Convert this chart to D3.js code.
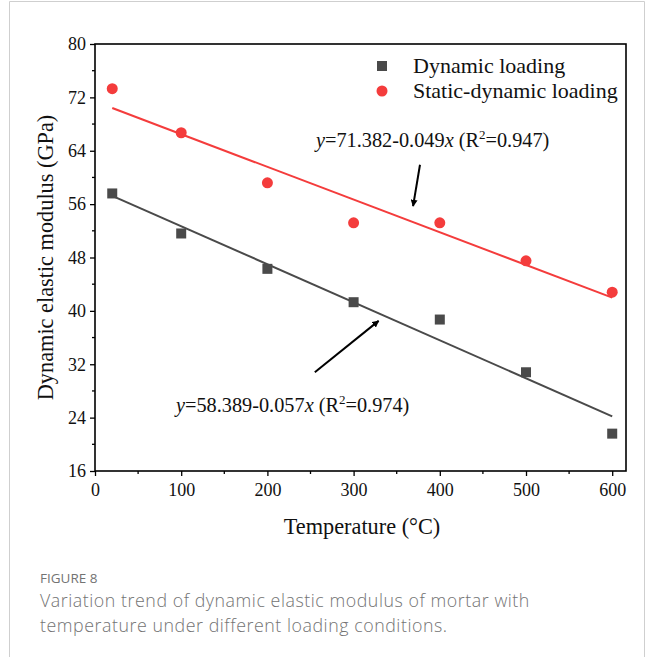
<!DOCTYPE html>
<html>
<head>
<style>
    body { margin: 0; background: #fff; }
    svg text { font-family: "Liberation Serif", "Times New Roman", serif; fill: #111; }
    .caption text { font-family: "Open Sans", sans-serif; fill: #737373; }
</style>
</head>
<body>
<script src="https://cdn.jsdelivr.net/npm/d3@7"></script>
<script>
const temps = [20, 100, 200, 300, 400, 500, 600];
const dynamicLoading = [57.6, 51.6, 46.3, 41.3, 38.7, 30.8, 21.6];
const staticDynamic = [73.3, 66.7, 59.2, 53.2, 53.2, 47.5, 42.8];
const fitDynamic = [58.389, -0.057];
const fitStatic = [71.382, -0.049];
const xTicks = [0, 100, 200, 300, 400, 500, 600];
const yTicks = [16, 24, 32, 40, 48, 56, 64, 72, 80];

const width = 654, height = 657;
const plotLeft = 95, plotRight = 626, plotTop = 44, plotBottom = 471;
const serif = '"Liberation Serif", "Times New Roman", serif';

const svg = d3.select('body').append('svg')
    .attr('width', width).attr('height', height);

// outer card border
svg.append('path')
    .attr('d', `M9.5,${height} V1.5 H644.5 V${height}`)
    .attr('fill', 'none').attr('stroke', '#cfcfcf').attr('stroke-width', 1);

const x = d3.scaleLinear().domain([0, 616]).range([plotLeft, plotRight]);
const y = d3.scaleLinear().domain([16, 80]).range([plotBottom, plotTop]);

const defs = svg.append('defs');
defs.append('marker')
    .attr('id', 'arrow')
    .attr('viewBox', '0 0 10 10')
    .attr('refX', 9).attr('refY', 5)
    .attr('markerWidth', 7).attr('markerHeight', 7)
    .attr('markerUnits', 'userSpaceOnUse')
    .attr('orient', 'auto')
    .append('path').attr('d', 'M0,0 L10,5 L0,10 z').attr('fill', '#000');

// frame
svg.append('rect')
    .attr('x', plotLeft).attr('y', plotTop)
    .attr('width', plotRight - plotLeft).attr('height', plotBottom - plotTop)
    .attr('fill', 'none').attr('stroke', '#000').attr('stroke-width', 1.6);

// axes
const xAxis = d3.axisBottom(x).tickValues(xTicks).tickSize(5).tickPadding(4);
const gx = svg.append('g').attr('transform', `translate(0,${plotBottom})`).call(xAxis)
    .attr('font-family', serif).attr('font-size', 18);
gx.select('.domain').remove();
gx.selectAll('text').attr('dy', '0.9em').style('font-family', serif);
gx.selectAll('line').attr('stroke-width', 1.3);
svg.append('g').selectAll('line')
    .data(d3.range(50, 616, 100))
    .join('line')
    .attr('x1', d => x(d)).attr('x2', d => x(d))
    .attr('y1', plotBottom).attr('y2', plotBottom + 3)
    .attr('stroke', '#000').attr('stroke-width', 1.3);

const yAxis = d3.axisLeft(y).tickValues(yTicks).tickSize(5).tickPadding(4);
const gy = svg.append('g').attr('transform', `translate(${plotLeft},0)`).call(yAxis)
    .attr('font-family', serif).attr('font-size', 18);
gy.select('.domain').remove();
gy.selectAll('text').style('font-family', serif);
gy.selectAll('line').attr('stroke-width', 1.3);
svg.append('g').selectAll('line')
    .data(d3.range(20, 80, 8))
    .join('line')
    .attr('x1', plotLeft - 3).attr('x2', plotLeft)
    .attr('y1', d => y(d)).attr('y2', d => y(d))
    .attr('stroke', '#000').attr('stroke-width', 1.3);

// axis titles
svg.append('text')
    .attr('x', 362).attr('y', 534)
    .attr('text-anchor', 'middle').attr('font-size', 22.3)
    .text('Temperature (°C)');
svg.append('text')
    .attr('transform', `translate(53,${(plotTop + plotBottom) / 2}) rotate(-90)`)
    .attr('text-anchor', 'middle').attr('font-size', 22.3)
    .text('Dynamic elastic modulus (GPa)');

// fit lines
const fitLine = (fit, color) => svg.append('line')
    .attr('x1', x(20)).attr('y1', y(fit[0] + fit[1] * 20))
    .attr('x2', x(600)).attr('y2', y(fit[0] + fit[1] * 600))
    .attr('stroke', color).attr('stroke-width', 2);
fitLine(fitStatic, '#f43c3c');
fitLine(fitDynamic, '#4a4a4a');

// points
svg.append('g').selectAll('rect')
    .data(temps)
    .join('rect')
    .attr('x', (d) => x(d) - 5).attr('y', (d, i) => y(dynamicLoading[i]) - 5)
    .attr('width', 10).attr('height', 10)
    .attr('fill', '#4a4a4a');
svg.append('g').selectAll('circle')
    .data(temps)
    .join('circle')
    .attr('cx', d => x(d)).attr('cy', (d, i) => y(staticDynamic[i]))
    .attr('r', 5.5)
    .attr('fill', '#f43c3c');

// legend
const legend = svg.append('g');
legend.append('rect').attr('x', 377).attr('y', 61).attr('width', 10).attr('height', 10).attr('fill', '#4a4a4a');
legend.append('text').attr('x', 413).attr('y', 73).attr('font-size', 22).text('Dynamic loading');
legend.append('circle').attr('cx', 382).attr('cy', 91).attr('r', 5.5).attr('fill', '#f43c3c');
legend.append('text').attr('x', 413).attr('y', 98).attr('font-size', 22).text('Static-dynamic loading');

// equations
function equation(xPos, yPos, a, b, r2) {
    const t = svg.append('text').attr('x', xPos).attr('y', yPos).attr('font-size', 20.3);
    t.append('tspan').attr('font-style', 'italic').text('y');
    t.append('tspan').text(`=${a}-${b}`);
    t.append('tspan').attr('font-style', 'italic').text('x');
    t.append('tspan').text(' (R');
    t.append('tspan').attr('font-size', 13).attr('dy', -8).text('2');
    t.append('tspan').attr('dy', 8).text(`=${r2})`);
}
equation(316, 147, '71.382', '0.049', '0.947');
equation(176, 412, '58.389', '0.057', '0.974');

// arrows
svg.append('line')
    .attr('x1', x(377)).attr('y1', y(61.9))
    .attr('x2', x(369)).attr('y2', y(55.7))
    .attr('stroke', '#000').attr('stroke-width', 2)
    .attr('marker-end', 'url(#arrow)');
svg.append('line')
    .attr('x1', x(255)).attr('y1', y(30.8))
    .attr('x2', x(329)).attr('y2', y(38.5))
    .attr('stroke', '#000').attr('stroke-width', 2)
    .attr('marker-end', 'url(#arrow)');

// caption
const cap = svg.append('g').attr('class', 'caption');
cap.append('text').attr('x', 40).attr('y', 583).attr('font-size', 13.5).text('FIGURE 8');
cap.append('text').attr('x', 40).attr('y', 607).attr('font-size', 17.8).attr('font-weight', 300)
    .attr('letter-spacing', 0.55)
    .text('Variation trend of dynamic elastic modulus of mortar with');
cap.append('text').attr('x', 40).attr('y', 632).attr('font-size', 17.8).attr('font-weight', 300)
    .attr('letter-spacing', 0.55)
    .text('temperature under different loading conditions.');
</script>
</body>
</html>
